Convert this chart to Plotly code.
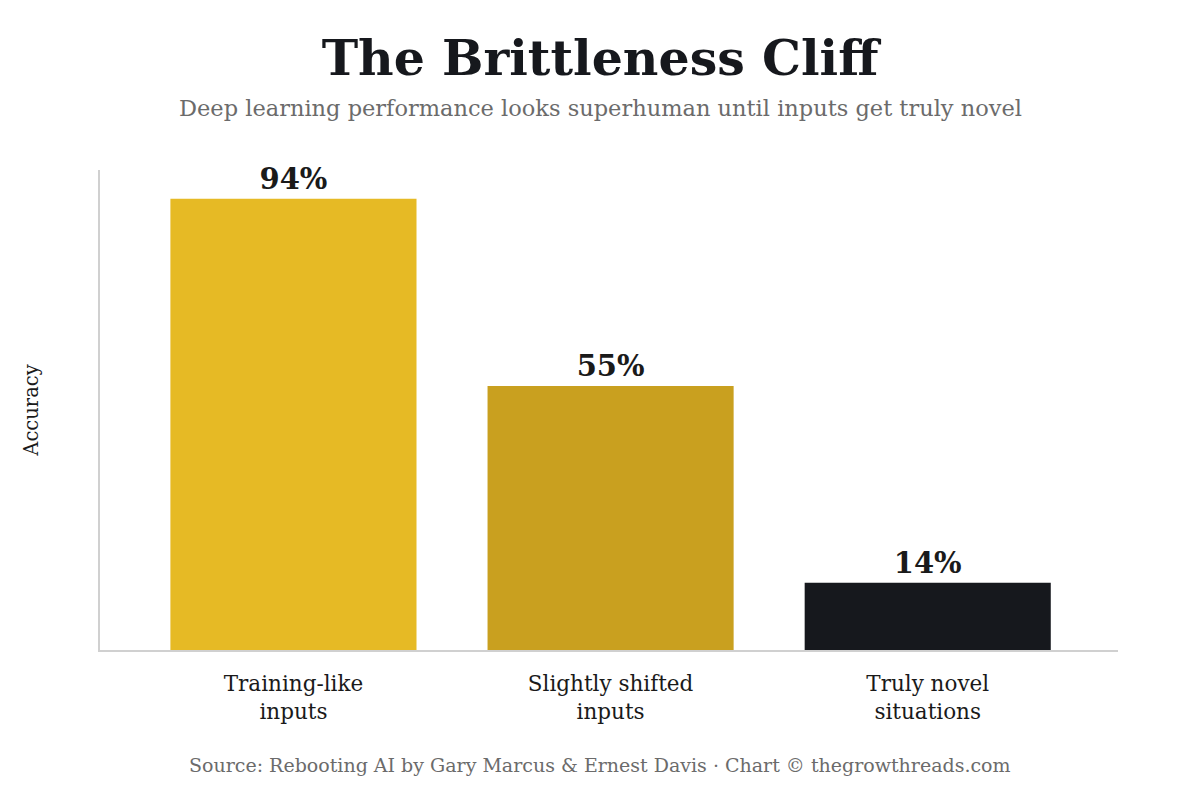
import plotly.graph_objects as go

categories = ["Training-like<br>inputs", "Slightly shifted<br>inputs", "Truly novel<br>situations"]
accuracy = [94, 55, 14]
labels = ["94%", "55%", "14%"]
colors = ["#E6BA25", "#C9A01F", "#16181D"]

SERIF = "DejaVu Serif"

# the page body has an 8px margin, so margins are shifted by that
TOP, BOTTOM, LEFT, RIGHT = 162, 158, 92, 90
plot_h = 800 - TOP - BOTTOM
plot_w = 1200 - LEFT - RIGHT
center_x = (592 - LEFT) / plot_w

fig = go.Figure()
fig.add_trace(go.Bar(
    x=categories,
    y=accuracy,
    marker=dict(color=colors, line=dict(width=0)),
    text=labels,
    textposition="outside",
    textfont=dict(family=SERIF, size=29, color="#1a1a1a", weight="bold"),
    cliponaxis=False,
    hoverinfo="skip",
))

fig.update_layout(
    width=1200,
    height=800,
    paper_bgcolor="white",
    plot_bgcolor="white",
    margin=dict(l=LEFT, r=RIGHT, t=TOP, b=BOTTOM),
    bargap=0.224,
    showlegend=False,
    font=dict(family=SERIF, color="#1a1a1a"),
    title=dict(
        text="<b>The Brittleness Cliff</b>",
        x=592 / 1200, xanchor="center",
        y=1 - 50 / 800, yanchor="middle",
        font=dict(family=SERIF, size=49, color="#16181D"),
    ),
    annotations=[
        dict(text="Deep learning performance looks superhuman until inputs get truly novel",
             x=center_x, y=1 + (TOP - 100) / plot_h, xref="paper", yref="paper",
             yanchor="middle", showarrow=False,
             font=dict(family=SERIF, size=22.5, color="#6b6b6b")),
        dict(text="Source: Rebooting AI by Gary Marcus &amp; Ernest Davis · Chart © thegrowthreads.com",
             x=center_x, y=-(757 - (800 - BOTTOM)) / plot_h, xref="paper", yref="paper",
             yanchor="middle", showarrow=False,
             font=dict(family=SERIF, size=19, color="#6b6b6b")),
    ],
)

fig.update_xaxes(
    range=[-0.61, 2.6],
    showline=True, linecolor="#d0d0d0", linewidth=2,
    ticks="", showgrid=False,
    tickfont=dict(family=SERIF, size=21.5, color="#1a1a1a"),
    ticklabelstandoff=13,
)
fig.update_yaxes(
    range=[0, 100],
    showline=True, linecolor="#d0d0d0", linewidth=2,
    showticklabels=False, ticks="", showgrid=False, zeroline=False,
    title=dict(text="Accuracy", font=dict(family=SERIF, size=19.5, color="#1a1a1a"), standoff=54),
)

fig.write_html("out.html")
